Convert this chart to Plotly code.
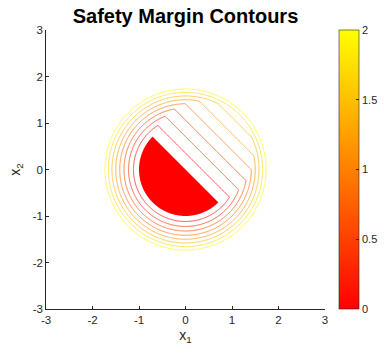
import numpy as np
import plotly.graph_objects as go

# ---- data / parameters ----
axis_ticks = [-3, -2, -1, 0, 1, 2, 3]
colorbar_ticks = [0, 0.5, 1, 1.5, 2]
colorbar_ticktext = ["0", "0.5", "1", "1.5", "2"]
contour_levels_start = 0.25
contour_levels_end = 2.0
contour_levels_step = 0.25
unsafe_radius = 1.0
grid_x = np.linspace(-3, 3, 801)
grid_y = np.linspace(-3, 3, 801)

# safety margin: max(|x|^2 - R^2, signed distance to the diameter line x1 + x2 = 0)
X1, X2 = np.meshgrid(grid_x, grid_y)
margin = np.maximum(X1**2 + X2**2 - unsafe_radius**2, (X1 + X2) / np.sqrt(2))

autumn = [[0, "rgb(255,0,0)"], [1, "rgb(255,255,0)"]]
font_family = "Liberation Sans, Arial, Helvetica, sans-serif"
axis_color = "#262626"

fig = go.Figure()

# unsafe (failure) set filled red (plotly fills the region that violates the constraint)
fig.add_trace(go.Contour(
    x=grid_x, y=grid_y, z=margin,
    contours=dict(type="constraint", operation=">", value=0),
    fillcolor="rgb(255,0,0)", line=dict(width=0),
    showscale=False, hoverinfo="skip",
))

# level-set contour lines
fig.add_trace(go.Contour(
    x=grid_x, y=grid_y, z=margin,
    contours=dict(coloring="lines", start=contour_levels_start,
                  end=contour_levels_end, size=contour_levels_step),
    colorscale=autumn, zmin=0, zmax=2,
    line=dict(width=0.7), showscale=False,
))

# continuous colorbar (MATLAB-like)
fig.add_trace(go.Scatter(
    x=[None, None], y=[None, None], mode="markers",
    marker=dict(color=[0, 2], cmin=0, cmax=2, colorscale=autumn, showscale=True,
                colorbar=dict(
                    x=(339 - 46) / 279, xanchor="left", xpad=0,
                    y=0.5, yanchor="middle", len=1, lenmode="fraction", ypad=0,
                    thickness=20, thicknessmode="pixels",
                    outlinecolor=axis_color, outlinewidth=0.6,
                    tickvals=colorbar_ticks, ticktext=colorbar_ticktext,
                    ticks="inside", ticklen=3, tickcolor=axis_color,
                    tickfont=dict(family=font_family, size=11, color=axis_color),
                )),
    showlegend=False, hoverinfo="skip",
))

axis_common = dict(
    range=[-3, 3], tickvals=axis_ticks, ticktext=[str(t) for t in axis_ticks],
    ticks="inside", ticklen=3, tickcolor=axis_color, tickwidth=0.6,
    showline=True, linecolor=axis_color, linewidth=0.6, mirror=False,
    showgrid=False, zeroline=False,
    tickfont=dict(family=font_family, size=11.5, color=axis_color),
)

fig.update_layout(
    width=384, height=354,
    margin=dict(l=46, r=59, t=30, b=45, autoexpand=False),
    paper_bgcolor="white", plot_bgcolor="white",
    title=dict(text="<b>Safety Margin Contours</b>", x=(46 + 325) / 2 / 384, xanchor="center",
               y=1 - 16 / 354, yanchor="middle",
               font=dict(family=font_family, size=20, color="black")),
    xaxis=dict(**axis_common,
               title=dict(text="x<sub>1</sub>", standoff=5,
                          font=dict(family=font_family, size=14, color=axis_color))),
    yaxis=dict(**axis_common,
               title=dict(text="x<sub>2</sub>", standoff=8,
                          font=dict(family=font_family, size=14, color=axis_color))),
    showlegend=False,
)

fig.write_html("out.html")
